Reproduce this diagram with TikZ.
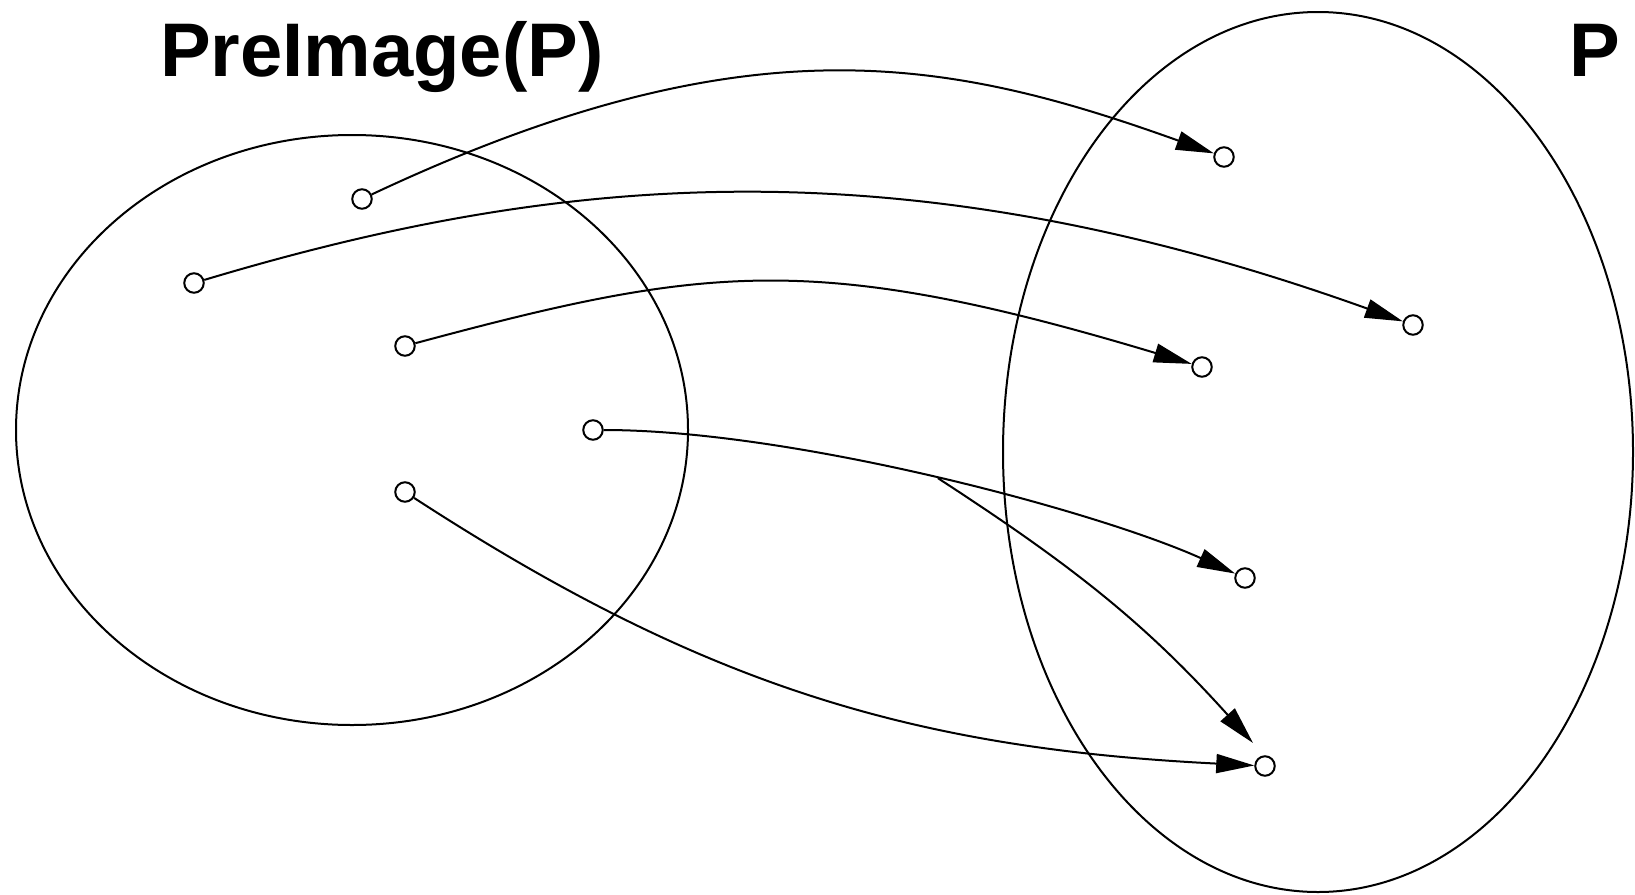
\documentclass[tikz,border=0pt]{standalone}
\usepackage{fontspec}
\setmainfont{Liberation Sans}
\usetikzlibrary{arrows.meta}
\begin{document}
\begin{tikzpicture}[x=1pt,y=-1pt,
  line width=2pt,
  elem/.style={circle,draw,fill=white,minimum size=19.5pt,inner sep=0pt},
  maparrow/.style={-{Triangle[length=38pt,width=19pt]}},
  title/.style={anchor=base west,inner sep=0pt,font=\fontsize{76}{80}\selectfont\bfseries}]
\useasboundingbox (0,0) rectangle (1635,894);

% the two sets
\draw (352,430) ellipse [x radius=336, y radius=295];
\draw (1318,452) ellipse [x radius=315, y radius=440];

\node[title] (lblpre) at (159,76) {PreImage(P)};
\node[title] (lblp) at (1568,76) {P};

% elements of the preimage
\node[elem] (a1) at (362,199) {};
\node[elem] (a2) at (194,283) {};
\node[elem] (a3) at (405,346) {};
\node[elem] (a4) at (593,430) {};
\node[elem] (a5) at (405,492) {};

% elements of P
\node[elem] (b1) at (1224,157) {};
\node[elem] (b2) at (1413,325) {};
\node[elem] (b3) at (1202,367) {};
\node[elem] (b4) at (1245,578) {};
\node[elem] (b5) at (1265,766) {};

% the mapping
\draw[maparrow] (a1) .. controls +(385,-181) and +(-276,-99) .. (b1);
\draw[maparrow] (a2) .. controls +(360,-108) and +(-515,-185) .. (b2);
\draw[maparrow] (a3) .. controls +(301,-81) and +(-386,-116) .. (b3);
\draw[maparrow] (a4) .. controls +(200,0) and +(-150,-67.5) .. (b4) coordinate[pos=0.5] (fork);
\draw[maparrow] (a5) .. controls +(300,195) and +(-350,-17.5) .. (b5);

\coordinate (tip5) at (1253,743);
\draw[maparrow] (fork) to[out=-33,in=132] (tip5);
\end{tikzpicture}
\end{document}
